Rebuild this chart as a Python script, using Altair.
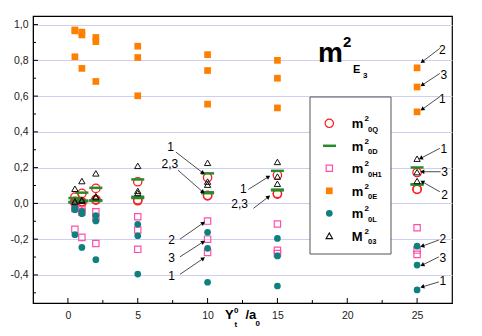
import math
import altair as alt
import pandas as pd

# ---------------- data ----------------
X = [0.5, 1, 2, 5, 10, 15, 25]

m0Q_1 = [0.035, 0.056, 0.084, 0.121, 0.145, 0.158, 0.173]
m0Q_2 = [0.002, 0.003, 0.018, 0.015, 0.042, 0.052, 0.078]
m0Q_3 = [0.012, 0.010, 0.022, 0.020, 0.045, 0.055, 0.080]

m0D_1 = [0.030, 0.060, 0.087, 0.134, 0.168, 0.182, 0.201]
m0D_2 = [0.005, 0.012, 0.014, 0.030, 0.057, 0.073, 0.106]
m0D_3 = [0.008, 0.016, 0.018, 0.037, 0.062, 0.077, 0.106]

m0H1_1 = [-0.145, -0.190, -0.224, -0.257, -0.274, -0.280, -0.285]
m0H1_2 = [-0.018, -0.035, -0.047, -0.075, -0.099, -0.115, -0.136]
m0H1_3 = [-0.028, -0.048, -0.080, -0.149, -0.200, -0.262, -0.261]

m0E_1 = [0.820, 0.755, 0.682, 0.602, 0.555, 0.534, 0.512]
m0E_2 = [0.970, 0.958, 0.928, 0.879, 0.832, 0.800, 0.758]
m0E_3 = [0.965, 0.942, 0.905, 0.816, 0.743, 0.700, 0.651]

m0L_1 = [-0.175, -0.246, -0.315, -0.395, -0.441, -0.462, -0.484]
m0L_2 = [-0.025, -0.045, -0.068, -0.117, -0.162, -0.196, -0.239]
m0L_3 = [-0.035, -0.058, -0.098, -0.181, -0.251, -0.294, -0.345]

M03_1 = [0.082, 0.125, 0.168, 0.210, 0.227, 0.232, 0.250]
M03_2 = [0.008, 0.015, 0.035, 0.058, 0.105, 0.110, 0.125]
M03_3 = [0.012, 0.020, 0.040, 0.070, 0.122, 0.150, 0.175]

XTICKS = [0, 5, 10, 15, 20, 25]
XMINOR = [2.5, 7.5, 12.5, 17.5, 22.5]
YTICKS = [-0.4, -0.2, 0.0, 0.2, 0.4, 0.6, 0.8, 1.0]
YMINOR = [-0.5, -0.3, -0.1, 0.1, 0.3, 0.5, 0.7, 0.9]

# annotations: label text, label x, label y, arrow start x, y, arrow end x, y
ANN_TEXT = ["1", "2,3", "2", "3", "1", "1", "2,3",
            "2", "3", "1", "1", "3", "2", "2", "3", "1"]
ANN_LX = [7.35, 7.30, 7.42, 7.42, 7.42, 12.56, 12.30,
          26.80, 26.92, 26.80, 26.92, 26.97, 26.97, 26.85, 26.85, 26.85]
ANN_LY = [0.316, 0.218, -0.205, -0.308, -0.407, 0.078, -0.006,
          0.858, 0.718, 0.584, 0.304, 0.177, 0.046, -0.201, -0.308, -0.433]
ANN_SX = [7.73, 7.88, 8.02, 8.02, 8.02, 12.92, 13.28,
          26.63, 26.63, 26.63, 26.63, 26.68, 26.63, 26.56, 26.56, 26.56]
ANN_SY = [0.287, 0.186, -0.200, -0.299, -0.397, 0.078, -0.028,
          0.867, 0.727, 0.597, 0.308, 0.177, 0.065, -0.205, -0.299, -0.439]
ANN_EX = [9.67, 9.67, 9.69, 9.69, 9.69, 14.36, 14.36,
          25.37, 25.37, 25.37, 25.26, 25.37, 25.37, 25.37, 25.37, 25.37]
ANN_EY = [0.170, 0.063, -0.109, -0.215, -0.308, 0.149, 0.037,
          0.792, 0.662, 0.526, 0.252, 0.177, 0.121, -0.239, -0.345, -0.467]

# ---------------- layout ----------------
W, H = 419, 287
XDOM = [-2.5, 27.5]
YDOM = [-0.557, 1.048]
F = "Liberation Sans"

C_RED = "#ff1a1a"
C_GREEN = "#2a8a2a"
C_PINK = "#ff4fa8"
C_ORANGE = "#ff8000"
C_TEAL = "#0e8080"
C_TRI = "#111111"

xs = alt.Scale(domain=XDOM, nice=False, zero=False)
ys = alt.Scale(domain=YDOM, nice=False, zero=False)

XENC = alt.X("x:Q", scale=xs, axis=alt.Axis(
    values=XTICKS, tickSize=0, labelPadding=7, labelFontSize=10.5, labelFont=F,
    labelColor="#222", domainColor="black", grid=False, title=None))
YENC = alt.Y("y:Q", scale=ys, axis=alt.Axis(
    values=YTICKS, tickSize=0, labelPadding=5, labelFontSize=10.5, labelFont=F,
    labelColor="#222", domainColor="black", grid=True, gridColor="#cfcff5",
    gridWidth=1, title=None,
    labelExpr="replace(replace(format(datum.value, '.1f'), '.', ','), '\u2212', '-')"))


def series_df(*cases):
    rows = []
    for c, vals in enumerate(cases, 1):
        for x, v in zip(X, vals):
            rows.append({"x": x, "y": v, "case": c})
    return pd.DataFrame(rows)


ONE = pd.DataFrame({"k": [0]})


def txt(t, px, py, size, bold=True, align="left", color="black"):
    return alt.Chart(ONE).mark_text(
        text=t, fontSize=size, fontWeight="bold" if bold else "normal", font=F,
        align=align, baseline="alphabetic", color=color
    ).encode(x=alt.value(px), y=alt.value(py))


layers = []

# inside ticks
layers.append(alt.Chart(pd.DataFrame({"y": YTICKS})).mark_rule(color="black", strokeWidth=1)
              .encode(y=YENC, x=alt.value(0), x2=alt.value(5)))
layers.append(alt.Chart(pd.DataFrame({"y": YMINOR})).mark_rule(color="black", strokeWidth=1)
              .encode(y=YENC, x=alt.value(0), x2=alt.value(3)))
layers.append(alt.Chart(pd.DataFrame({"x": XTICKS})).mark_rule(color="black", strokeWidth=1)
              .encode(x=XENC, y=alt.value(H), y2=alt.value(H - 5)))
layers.append(alt.Chart(pd.DataFrame({"x": XMINOR})).mark_rule(color="black", strokeWidth=1)
              .encode(x=XENC, y=alt.value(H), y2=alt.value(H - 3)))

# data series
layers.append(alt.Chart(series_df(m0Q_1, m0Q_2, m0Q_3)).mark_point(
    shape="circle", filled=False, color=C_RED, size=70, strokeWidth=1.3, opacity=1)
    .encode(x=XENC, y=YENC))
layers.append(alt.Chart(series_df(m0D_1, m0D_2, m0D_3)).mark_tick(
    orient="horizontal", color=C_GREEN, size=13, thickness=2.5, opacity=1)
    .encode(x=XENC, y=YENC))
layers.append(alt.Chart(series_df(m0H1_1, m0H1_2, m0H1_3)).mark_point(
    shape="square", filled=False, color=C_PINK, size=40, strokeWidth=1.2, opacity=1)
    .encode(x=XENC, y=YENC))
layers.append(alt.Chart(series_df(m0E_1, m0E_2, m0E_3)).mark_point(
    shape="square", filled=True, color=C_ORANGE, size=45, opacity=1)
    .encode(x=XENC, y=YENC))
layers.append(alt.Chart(series_df(m0L_1, m0L_2, m0L_3)).mark_point(
    shape="circle", filled=True, color=C_TEAL, size=45, opacity=1)
    .encode(x=XENC, y=YENC))
layers.append(alt.Chart(series_df(M03_1, M03_2, M03_3)).mark_point(
    shape="triangle-up", filled=False, color=C_TRI, size=40, strokeWidth=1, opacity=1)
    .encode(x=XENC, y=YENC))

# annotations
sxp = W / (XDOM[1] - XDOM[0])
syp = H / (YDOM[1] - YDOM[0])
angles = []
for x1, y1, x2, y2 in zip(ANN_SX, ANN_SY, ANN_EX, ANN_EY):
    dx = (x2 - x1) * sxp
    dys = -(y2 - y1) * syp
    angles.append(math.degrees(math.atan2(dx, -dys)) % 360)
ann = pd.DataFrame({"t": ANN_TEXT, "lx": ANN_LX, "ly": ANN_LY,
                    "x": ANN_SX, "y": ANN_SY, "x2": ANN_EX, "y2": ANN_EY, "ang": angles})
layers.append(alt.Chart(ann).mark_rule(color="black", strokeWidth=0.7)
              .encode(x=XENC, y=YENC, x2="x2:Q", y2="y2:Q"))
layers.append(alt.Chart(ann).mark_point(shape="triangle-up", filled=True, color="black",
                                        size=22, opacity=1)
              .encode(x=alt.X("x2:Q", scale=xs), y=alt.Y("y2:Q", scale=ys),
                      angle=alt.Angle("ang:Q", scale=None)))
layers.append(alt.Chart(ann).mark_text(fontSize=12, font=F, color="black", align="center",
                                       baseline="middle")
              .encode(x=alt.X("lx:Q", scale=xs), y=alt.Y("ly:Q", scale=ys), text="t:N"))

# chart title m^2 E_3
layers += [txt("m", 285, 45.7, 28), txt("2", 310, 30.7, 15),
           txt("E", 320, 56.7, 11), txt("3", 330, 62.3, 8)]

# axis title Y^0_t / a_0
layers += [txt("Y", 192, 302.5, 13), txt("0", 201, 296.5, 8), txt("t", 201.5, 311, 8),
           txt("/a", 212.5, 303, 13), txt("0", 222.5, 309.5, 8)]

# legend
layers.append(alt.Chart(ONE).mark_rect(fill="white", stroke="#555", strokeWidth=1)
              .encode(x=alt.value(277), x2=alt.value(358), y=alt.value(81), y2=alt.value(238)))
LEG = [("m", "0Q", "circle", False, C_RED),
       ("m", "0D", "line", False, C_GREEN),
       ("m", "0H1", "square", False, C_PINK),
       ("m", "0E", "square", True, C_ORANGE),
       ("m", "0L", "circle", True, C_TEAL),
       ("M", "03", "triangle-up", False, C_TRI)]
SIZES = {"0Q": 70, "0H1": 40, "0E": 45, "0L": 45, "03": 40}
for i, (base, sub, shape, filled, col) in enumerate(LEG):
    py = 107.3 + i * 22.5
    if shape == "line":
        layers.append(alt.Chart(ONE).mark_rule(color=col, strokeWidth=2.5)
                      .encode(x=alt.value(290), x2=alt.value(303), y=alt.value(py)))
    else:
        layers.append(alt.Chart(ONE).mark_point(
            shape=shape, filled=filled, color=col, size=SIZES[sub],
            strokeWidth=1.2, opacity=1).encode(x=alt.value(296.3), y=alt.value(py)))
    layers += [txt(base, 318.7, py + 5, 13), txt("2", 331.5, py - 2, 8),
               txt(sub, 335, py + 8.5, 7.5)]

chart = alt.layer(*layers).properties(
    width=W, height=H,
    autosize=alt.AutoSizeParams(type="none"),
    padding={"left": 25, "top": 8, "right": 22, "bottom": 30},
).configure_view(stroke="black", strokeWidth=1.2)

chart.save("out.html", embed_options={"renderer": "svg", "actions": False})
